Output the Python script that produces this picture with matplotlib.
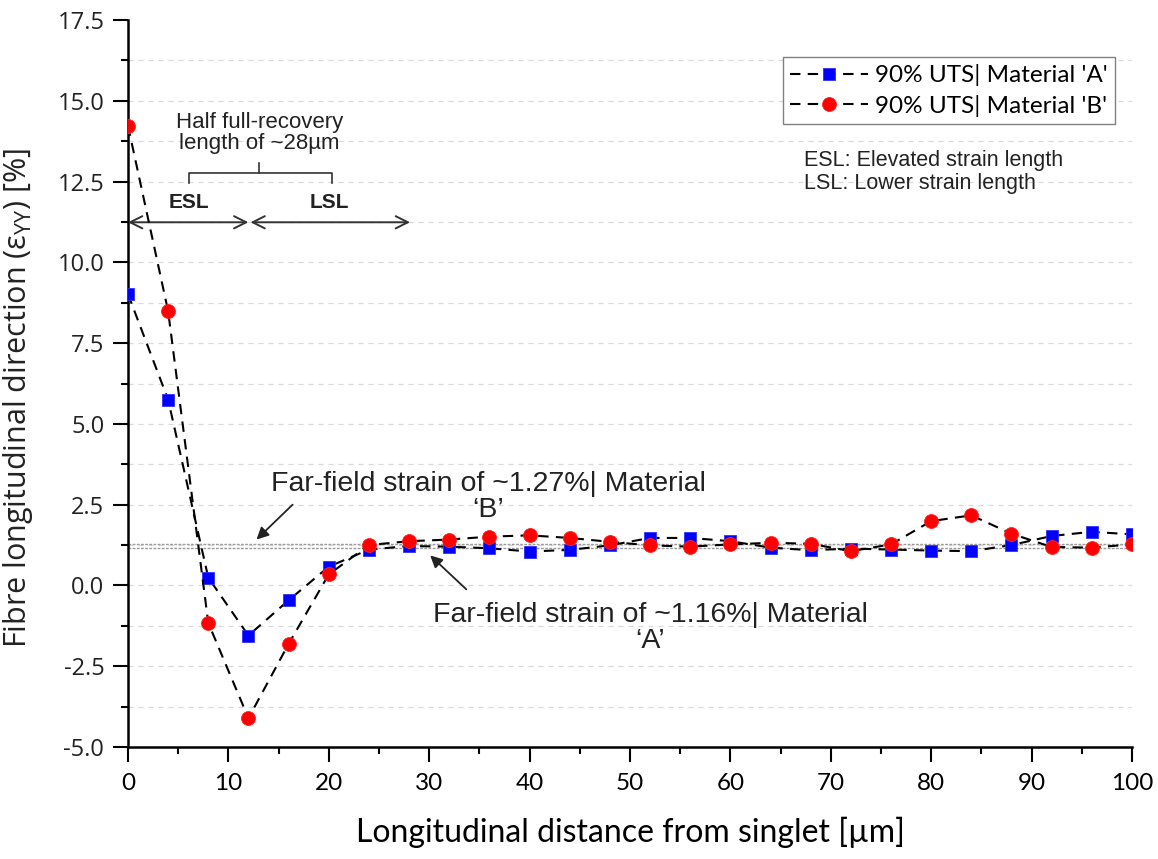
import matplotlib
matplotlib.use("Agg")
import matplotlib.pyplot as plt
from matplotlib.ticker import MultipleLocator, FormatStrFormatter

plt.rcParams['mathtext.fontset'] = 'custom'
plt.rcParams['mathtext.rm'] = 'Open Sans'
plt.rcParams['mathtext.default'] = 'regular'

# データ
distance = [0, 4, 8, 12, 16, 20, 24, 28, 32, 36, 40, 44, 48,
            52, 56, 60, 64, 68, 72, 76, 80, 84, 88, 92, 96, 100]
strain_a = [9.02, 5.75, 0.24, -1.55, -0.46, 0.58, 1.11, 1.22, 1.20, 1.15, 1.05, 1.10, 1.24,
            1.47, 1.47, 1.37, 1.17, 1.09, 1.14, 1.11, 1.08, 1.06, 1.25, 1.53, 1.66, 1.58]
strain_b = [14.23, 8.49, -1.16, -4.11, -1.81, 0.34, 1.25, 1.37, 1.42, 1.51, 1.55, 1.47, 1.35,
            1.24, 1.20, 1.27, 1.32, 1.29, 1.06, 1.27, 1.99, 2.17, 1.60, 1.19, 1.17, 1.27]
far_field_a = 1.16
far_field_b = 1.27

label_a = "90% UTS| Material 'A'"
label_b = "90% UTS| Material 'B'"

fig = plt.figure(figsize=(11.58, 8.59), dpi=100)
ax = fig.add_axes([0.1105, 0.1304, 0.867, 0.8463])

# 目盛り線
for yv in [-3.75, -2.5, -1.25, 0, 1.25, 2.5, 3.75, 5, 6.25, 7.5, 8.75, 10, 11.25,
           12.5, 13.75, 15, 16.25]:
    ax.axhline(yv, color='#d9d9d9', lw=0.9, ls=(0, (4, 4)), zorder=0)

# far-field
ax.axhline(far_field_b, color='#9a9a9a', lw=1.0, ls=(0, (2, 1)), zorder=1)
ax.axhline(far_field_a, color='#9a9a9a', lw=1.0, ls=(0, (2, 1)), zorder=1)

ax.plot(distance, strain_a, ls=(0, (5, 3.5)), color='black', lw=1.5,
        marker='s', ms=8.5, mfc='#0000ff', mec='#3030ff', mew=0.6, label=label_a, zorder=3)
ax.plot(distance, strain_b, ls=(0, (5, 3.5)), color='black', lw=1.5,
        marker='o', ms=10, mfc='#ff0000', mec='#ff2020', mew=0.6, label=label_b, zorder=4)

ax.set_xlim(0, 100)
ax.set_ylim(-5, 17.5)
ax.xaxis.set_major_locator(MultipleLocator(10))
ax.xaxis.set_minor_locator(MultipleLocator(5))
ax.yaxis.set_major_locator(MultipleLocator(2.5))
ax.yaxis.set_minor_locator(MultipleLocator(1.25))
ax.yaxis.set_major_formatter(FormatStrFormatter('%.1f'))

for s in ['top', 'right']:
    ax.spines[s].set_visible(False)
for s in ['left', 'bottom']:
    ax.spines[s].set_linewidth(1.8)

ax.tick_params(which='major', length=11, width=1.5, direction='out')
ax.tick_params(which='minor', length=5, width=1.5, direction='out')
ax.tick_params(axis='x', pad=8)
ax.tick_params(axis='y', pad=6)
for t in ax.get_xticklabels():
    t.set_fontfamily('Lato')
    t.set_fontsize(17.5)
for t in ax.get_yticklabels():
    t.set_fontfamily('Open Sans')
    t.set_fontsize(17)
    t.set_color('#222222')

ax.set_xlabel("Longitudinal distance from singlet [µm]", family='Lato', fontsize=23, labelpad=16)
ax.set_ylabel(r"Fibre longitudinal direction (ε$_{\mathrm{YY}}$) [%]",
              family='Open Sans', fontsize=22, color='#222222')
ax.yaxis.set_label_coords(-0.093, 0.48)

# 凡例
leg = ax.legend(loc='upper right', bbox_to_anchor=(0.983, 0.949), borderaxespad=0,
                prop={'family': 'Lato', 'size': 17.5}, handlelength=3.2, handletextpad=0.3,
                fancybox=False, edgecolor='#808080', framealpha=1,
                borderpad=0.3, labelspacing=0.35)
leg.get_frame().set_linewidth(1.0)

ax.text(67.3, 12.8, "ESL: Elevated strain length\nLSL: Lower strain length",
        family='Liberation Sans', fontsize=15.5, va='center', ha='left', color='#222222',
        linespacing=1.1)

# ESL / LSL
arrow_kw = dict(arrowstyle='<->', color='#333333', lw=1.4, mutation_scale=22,
                shrinkA=0, shrinkB=0)
ax.annotate('', xy=(12.0, 11.24), xytext=(0, 11.24), arrowprops=arrow_kw)
ax.annotate('', xy=(28.1, 11.24), xytext=(12.2, 11.24), arrowprops=arrow_kw)
ax.text(6.1, 11.84, "ESL", family='Liberation Sans', fontsize=15, fontweight='bold',
        ha='center', va='center', color='#222222')
ax.text(20.1, 11.84, "LSL", family='Liberation Sans', fontsize=15, fontweight='bold',
        ha='center', va='center', color='#222222')

ax.plot([6.1, 6.1, 20.3, 20.3], [12.46, 12.77, 12.77, 12.46], color='#333333', lw=1.2)
ax.plot([13.1, 13.1], [12.77, 13.08], color='#333333', lw=1.2)
ax.text(13.1, 14.0, "Half full-recovery\nlength of ~28µm", family='Liberation Sans',
        fontsize=16, ha='center', va='center', color='#222222', linespacing=1.05)

# far-field
ax.text(35.9, 2.74, "Far-field strain of ~1.27%| Material\n‘B’", family='Liberation Sans',
        fontsize=20.5, ha='center', va='center', color='#222222', linespacing=1.0)
ax.annotate('', xy=(12.8, 1.42), xytext=(16.4, 2.5),
            arrowprops=dict(arrowstyle='-|>', color='#222222', lw=1.3, mutation_scale=18,
                            shrinkA=0, shrinkB=0))
ax.text(52.0, -1.31, "Far-field strain of ~1.16%| Material\n‘A’", family='Liberation Sans',
        fontsize=20.5, ha='center', va='center', color='#222222', linespacing=1.0)
ax.annotate('', xy=(30.1, 0.93), xytext=(33.7, -0.12),
            arrowprops=dict(arrowstyle='-|>', color='#222222', lw=1.3, mutation_scale=18,
                            shrinkA=0, shrinkB=0))

fig.savefig("out.png", dpi=100)
